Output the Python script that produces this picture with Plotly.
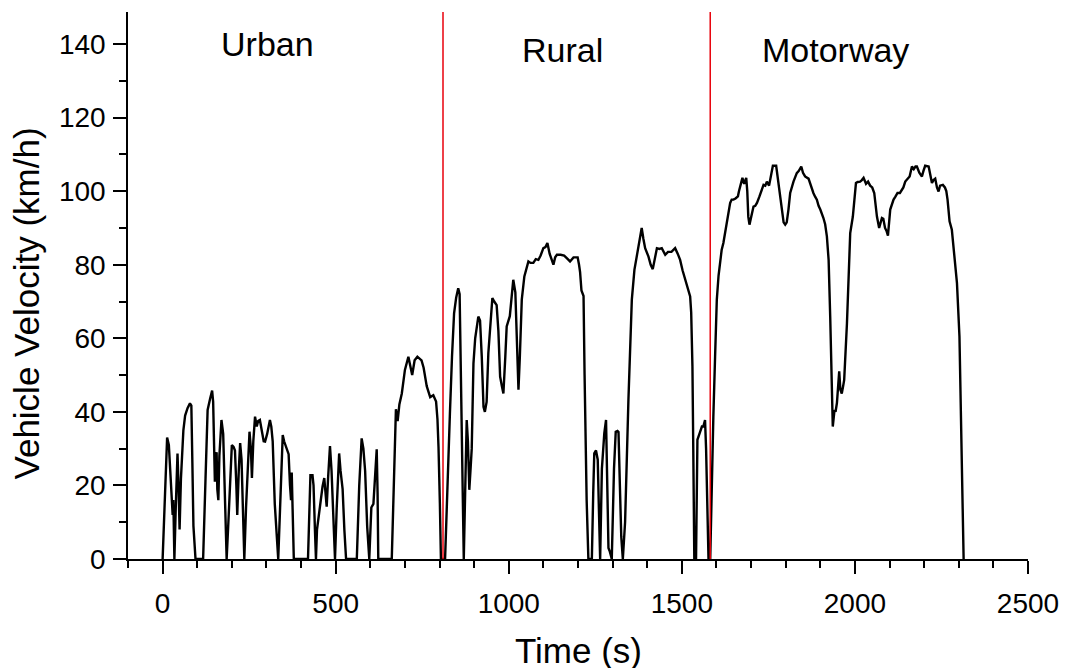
import plotly.graph_objects as go

# ---- data ----
time_s = [
    0, 13, 18, 22, 26, 29, 31, 34,
    38, 43, 46, 49, 53, 56, 60, 65, 72, 79, 83, 86, 89, 95, 117,
    124, 130, 137, 143, 146, 149, 151, 154, 156, 158, 161, 164, 170, 175, 180, 185,
    190, 195, 200, 205, 209, 213, 215.6, 220, 224, 228, 232, 236,
    241, 246, 251, 255, 258, 262, 267, 272, 276, 281, 286, 292, 296, 302, 310, 314, 318, 324, 334,
    340, 347, 351, 358, 364, 368, 371, 373, 376, 379, 420,
    424, 427, 433, 436, 440, 443, 446, 450, 455, 462, 467, 470, 474, 478, 483.5, 488, 492, 498,
    503, 510, 514, 517, 520, 525, 530, 561,
    568, 575, 580, 585, 588, 591, 597,
    600, 603, 609, 614, 618.5, 621, 623, 662,
    668, 674, 679, 684, 691, 700, 710, 716, 721, 728, 736, 748, 754, 763, 768, 773, 782, 787, 790, 794, 797, 801, 804, 816,
    822, 830, 836, 842, 848, 854, 858, 861, 864, 867, 870,
    874, 878.5, 882, 886, 890, 893, 898, 903, 912, 917, 922, 927, 931, 936, 941, 946, 952.6, 958, 965, 970,
    975, 980, 984.5, 990, 994, 1003, 1008, 1013, 1019, 1023, 1028, 1032, 1037.6, 1045, 1051, 1056.7, 1063,
    1071, 1078, 1085.5, 1092, 1100, 1106, 1111.6, 1118, 1123, 1129, 1134, 1139, 1150, 1160, 1167.6, 1177,
    1187, 1199, 1203, 1206, 1210, 1213, 1216, 1219, 1222, 1225, 1230, 1240,
    1244, 1247, 1252, 1257, 1260, 1264,
    1269, 1276, 1281, 1285, 1288, 1292, 1297.6,
    1304, 1309, 1314, 1317, 1321, 1325, 1329.5,
    1336, 1345.7, 1355.5, 1363, 1372.8, 1380, 1384, 1389, 1394, 1403.6, 1410, 1416, 1422, 1428, 1435, 1442,
    1452, 1460, 1470, 1480.6, 1488, 1495, 1502, 1509.5, 1516, 1524, 1527, 1530.6, 1533, 1536, 1541,
    1545, 1553, 1558, 1562, 1567, 1570, 1572, 1575, 1577, 1582,
    1586, 1591, 1596, 1601, 1606, 1610.7, 1615, 1620, 1628, 1634, 1639.6, 1644, 1649, 1655, 1662, 1665,
    1668.5, 1675, 1680, 1686, 1689, 1692, 1695.4, 1700, 1707, 1712, 1717, 1724, 1730, 1736, 1741, 1745.6,
    1752, 1758, 1763, 1772.5, 1779, 1784, 1789, 1794, 1798.6, 1803, 1808, 1813, 1822.5, 1832, 1838, 1845,
    1850, 1856, 1866, 1872, 1880, 1885, 1890, 1895, 1900, 1909, 1914, 1919, 1924, 1928.6, 1933.5, 1936,
    1941, 1944, 1948, 1954.6, 1958, 1962, 1966, 1969, 1977, 1982, 1986.4, 1994, 1998, 2003, 2008, 2015,
    2020, 2025, 2032, 2038, 2044, 2050, 2055.8, 2060, 2063.6, 2070, 2074, 2078, 2082, 2087, 2092, 2095.4,
    2102, 2111.6, 2117, 2123, 2130, 2135, 2140, 2145.4, 2152, 2158, 2164.7, 2170, 2175, 2179, 2186, 2193.6,
    2198, 2203, 2213, 2218, 2222.5, 2227, 2232, 2237, 2241.6, 2246, 2254, 2260, 2264, 2267.6, 2273.4, 2280,
    2287, 2294.8, 2302, 2307, 2311, 2314,
]
velocity_kmh = [
    0, 33, 31, 24, 16, 12, 16, 0,
    14, 28.7, 20, 8, 22, 30, 35, 39, 41, 42.3, 41.7, 26, 9, 0, 0,
    22, 40.5, 43.5, 45.8, 42.7, 30, 21, 28, 29, 19, 16, 28, 37.8, 34, 16, 0,
    10, 22, 31, 30.5, 29.5, 20, 12, 24, 31.5, 27, 12, 0,
    14, 25, 34.6, 30, 22, 32, 38.7, 36, 37.5, 37.8, 35, 32, 31.9, 34, 37.8, 36, 32, 15, 0,
    16, 33.7, 32, 30, 28.5, 20, 16, 23.5, 14, 0, 0,
    18, 22.8, 22.8, 20, 8, 0, 8, 11, 14.2, 19.7, 22, 18, 14.2, 22, 30.7, 24, 12, 0,
    14, 28.7, 24, 21.5, 19, 8, 0, 0,
    20, 32.8, 30, 24, 16, 8.8, 0,
    8, 14, 15, 24, 29.8, 18, 0, 0,
    22, 40.7, 37.5, 42, 45, 51.4, 55, 52, 50, 54, 55, 54, 52, 47, 45.5, 44, 44.5, 43.3, 42.8, 38, 30.5, 15, 0, 0,
    20, 39.6, 55, 66.8, 71, 73.6, 72, 55, 30, 12, 0,
    18, 37.8, 32, 18.8, 25, 30, 53.2, 60, 65.9, 64.8, 55, 41.4, 40, 42.7, 56, 63.2, 70.9, 70, 69, 62,
    49.6, 47, 45, 55, 63.2, 66, 72, 75.9, 72.5, 60, 46, 55, 70.5, 76.8, 79, 80.9, 80.5,
    80.5, 81.5, 81.3, 82.5, 84.5, 84.8, 85.9, 83, 81.5, 80, 82, 82.7, 82.7, 82.5, 81.8, 80.9,
    82, 82, 80, 78, 73, 72.3, 71.5, 50, 30, 16, 0, 0,
    18, 28.7, 29.5, 27, 15, 0,
    24.5, 34.2, 37.8, 20, 3, 2, 0,
    24.5, 34.6, 34.8, 34.5, 20, 6, 0,
    10, 43.3, 70.5, 78.6, 84, 87, 90, 87, 84.5, 82.2, 80, 78.8, 82, 84.5, 84.3, 84.5,
    82.7, 83.5, 83.5, 84.5, 83, 81.3, 78.5, 75.9, 74, 71.4, 67, 52.3, 30, 0, 0,
    32.4, 34.6, 36, 36, 37.8, 30, 20.6, 8, 0, 0,
    20, 38.7, 55, 70.5, 77, 81.3, 84, 85.9, 90.4, 94, 96.8, 97.7, 97.7, 98, 98.6, 100,
    101.3, 103.6, 102, 103.6, 100, 93, 90.9, 93, 95.8, 96, 96.8, 98.5, 100, 101.7, 101.5, 102.6,
    101.5, 104, 106.9, 106.9, 102.2, 98, 94, 91.5, 90.9, 91.5, 95, 99.5, 102.6, 104.9, 105.5, 106.7,
    105, 104, 103.4, 101.5, 99.5, 98.5, 97.7, 96, 95, 92.7, 91, 87.7, 81.3, 65.9, 47.8, 36,
    40.5, 40, 42.4, 51, 46, 45, 47, 48.7, 64.1, 77, 88.6, 93.1, 97, 102.2, 102.5, 102.6,
    103, 103.6, 102, 102.6, 101.5, 101, 99.5, 96, 93.1, 90, 91.5, 92.7, 92.5, 90, 89, 87.9,
    95, 97.7, 98.5, 99.5, 99.5, 100.4, 101, 102.6, 103.5, 104, 106.7, 106, 106.7, 106.7, 105, 104,
    105.5, 106.9, 106.7, 104, 102.2, 103, 103.4, 101, 99.9, 101.5, 101.7, 101, 100, 97.7, 91.8, 89.5,
    82.2, 75, 60.5, 38.7, 16, 0,
]

segment_boundaries = [810, 1582]
segment_names = ["Urban", "Rural", "Motorway"]
segment_label_x = [304, 1154, 1943]
segment_label_y = [140, 138.5, 138.5]

x_tickvals = [0, 500, 1000, 1500, 2000, 2500]
y_tickvals = [0, 20, 40, 60, 80, 100, 120, 140]

FONT = "Arial, 'Liberation Sans', Helvetica, sans-serif"

fig = go.Figure()
fig.add_trace(go.Scatter(
    x=time_s, y=velocity_kmh, mode="lines",
    line=dict(color="black", width=2.4), showlegend=False, hoverinfo="skip",
))

for xb in segment_boundaries:
    fig.add_shape(type="line", x0=xb, x1=xb, y0=0, y1=1, xref="x", yref="paper",
                  line=dict(color="#E8000B", width=1.5))

for name, lx, ly in zip(segment_names, segment_label_x, segment_label_y):
    fig.add_annotation(x=lx, y=ly, text=name, showarrow=False, xref="x", yref="y",
                       font=dict(family=FONT, size=34, color="black"))

# axis titles as annotations for exact placement
fig.add_annotation(x=0.5, y=0, xref="paper", yref="paper", text="Time (s)", showarrow=False,
                   xanchor="center", yanchor="middle", yshift=-91,
                   font=dict(family=FONT, size=35, color="black"))
fig.add_annotation(x=0, y=0.5, xref="paper", yref="paper", text="Vehicle Velocity (km/h)",
                   showarrow=False, textangle=-90, xanchor="center", yanchor="middle",
                   xshift=-102, yshift=-18,
                   font=dict(family=FONT, size=35, color="black"))

axis_common = dict(
    showline=True, linecolor="black", linewidth=1.5, showgrid=False, zeroline=False,
    ticks="outside", ticklen=13, tickwidth=1.5, tickcolor="black",
    tickfont=dict(family=FONT, size=28, color="black"),
    mirror=False, automargin=False,
)

fig.update_xaxes(
    range=[-100, 2500], tickvals=x_tickvals, ticklabelstandoff=6,
    minor=dict(dtick=100, tick0=0, ticks="outside", ticklen=7, tickwidth=1.5, tickcolor="black", showgrid=False),
    **axis_common,
)
fig.update_yaxes(
    range=[0, 148.7], tickvals=y_tickvals, ticklabelstandoff=2,
    minor=dict(dtick=10, tick0=0, ticks="outside", ticklen=7, tickwidth=1.5, tickcolor="black", showgrid=False),
    **axis_common,
)

fig.update_layout(
    width=1071, height=668,
    margin=dict(l=120, r=51, t=4, b=117),
    plot_bgcolor="white", paper_bgcolor="white",
    font=dict(family=FONT, color="black"),
)

fig.write_html("out.html")
